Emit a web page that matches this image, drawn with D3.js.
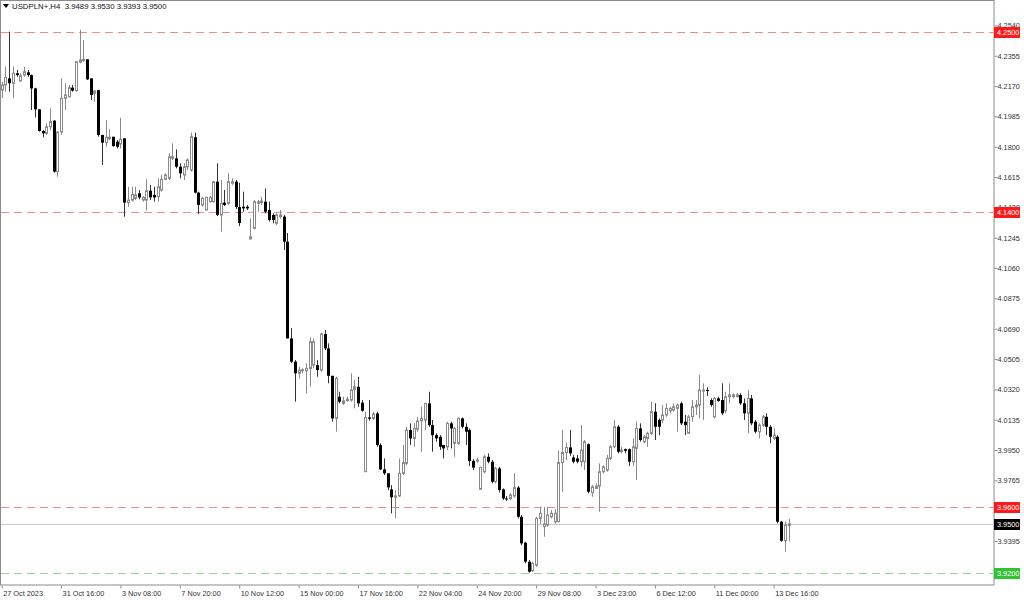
<!DOCTYPE html>
<html><head><meta charset="utf-8">
<script src="https://cdn.jsdelivr.net/npm/d3@7"></script>
<style>
html,body{margin:0;padding:0;background:#fff;}
svg{display:block;}
text{font-family:"Liberation Sans",Arial,sans-serif;}
</style></head>
<body>
<svg id="c" width="1024" height="600"></svg>
<script>
const title = "USDPLN+,H4  3.9489 3.9530 3.9393 3.9500";
const openV = [4.2146,4.2177,4.2217,4.2187,4.2248,4.2201,4.2237,4.2254,4.2237,4.2156,4.2028,4.1896,4.1882,4.1922,4.1959,4.1648,4.1890,4.2095,4.2105,4.2160,4.2142,4.2315,4.2325,4.2333,4.2217,4.2126,4.2146,4.1872,4.1825,4.1849,4.1861,4.1831,4.1817,4.1851,4.1459,4.1475,4.1485,4.1516,4.1475,4.1475,4.1532,4.1506,4.1495,4.1536,4.1601,4.1607,4.1729,4.1729,4.1678,4.1628,4.1678,4.1658,4.1858,4.1520,4.1445,4.1414,4.1465,4.1465,4.1587,4.1384,4.1459,4.1455,4.1577,4.1587,4.1432,4.1434,4.1434,4.1237,4.1302,4.1455,4.1459,4.1465,4.1414,4.1384,4.1333,4.1374,4.1374,4.1221,4.0631,4.0489,4.0418,4.0438,4.0434,4.0448,4.0468,4.0468,4.0438,4.0658,4.0570,4.0403,4.0143,4.0275,4.0234,4.0251,4.0255,4.0320,4.0336,4.0239,3.9818,4.0149,4.0143,4.0174,3.9981,3.9832,3.9808,3.9710,3.9662,3.9670,3.9808,3.9869,4.0072,4.0021,4.0077,4.0128,4.0133,4.0235,4.0102,4.0041,4.0031,3.9981,3.9970,4.0113,3.9991,3.9991,4.0143,4.0092,4.0072,3.9884,3.9884,3.9711,3.9818,3.9909,3.9879,3.9757,3.9838,3.9710,3.9655,3.9655,3.9670,3.9721,3.9543,3.9385,3.9269,3.9214,3.9248,3.9533,3.9483,3.9493,3.9543,3.9513,3.9513,3.9874,3.9935,3.9966,3.9905,3.9899,3.9879,3.9879,3.9986,3.9690,3.9716,3.9731,3.9818,3.9828,3.9899,3.9970,4.0092,3.9940,3.9955,3.9955,3.9879,3.9960,4.0082,4.0001,4.0021,4.0052,4.0184,4.0133,4.0133,4.0164,4.0190,4.0194,4.0204,4.0235,4.0123,4.0052,4.0153,4.0214,4.0224,4.0310,4.0316,4.0255,4.0153,4.0265,4.0255,4.0190,4.0275,4.0276,4.0276,4.0286,4.0235,4.0174,4.0265,4.0123,4.0062,4.0102,4.0153,4.0092,4.0021,4.0031,3.9513,3.9397,3.9489];
const highV = [4.2195,4.2288,4.2502,4.2288,4.2268,4.2248,4.2288,4.2268,4.2240,4.2160,4.2030,4.1902,4.1943,4.2034,4.1963,4.1892,4.2217,4.2187,4.2177,4.2177,4.2319,4.2512,4.2451,4.2333,4.2217,4.2146,4.2146,4.1872,4.1963,4.1906,4.1861,4.1841,4.1977,4.1851,4.1556,4.1556,4.1556,4.1536,4.1499,4.1601,4.1567,4.1556,4.1607,4.1628,4.1638,4.1760,4.1821,4.1784,4.1699,4.1699,4.1729,4.1886,4.1886,4.1526,4.1495,4.1495,4.1499,4.1587,4.1699,4.1597,4.1536,4.1638,4.1607,4.1597,4.1580,4.1526,4.1445,4.1363,4.1475,4.1475,4.1495,4.1546,4.1465,4.1394,4.1394,4.1414,4.1384,4.1274,4.0694,4.0499,4.0458,4.0448,4.0479,4.0638,4.0630,4.0499,4.0666,4.0682,4.0601,4.0403,4.0397,4.0306,4.0275,4.0275,4.0418,4.0377,4.0397,4.0255,4.0184,4.0255,4.0184,4.0184,3.9991,3.9899,3.9808,3.9736,3.9706,3.9899,3.9981,4.0093,4.0113,4.0113,4.0153,4.0214,4.0235,4.0306,4.0133,4.0052,4.0041,3.9981,4.0123,4.0123,4.0092,4.0149,4.0149,4.0113,4.0082,3.9894,3.9904,3.9848,3.9920,3.9930,3.9889,3.9848,3.9848,3.9716,3.9670,3.9686,3.9808,3.9731,3.9554,3.9391,3.9279,3.9269,3.9543,3.9604,3.9604,3.9604,3.9584,3.9590,3.9945,4.0072,3.9996,4.0072,3.9920,3.9920,4.0102,4.0011,3.9991,3.9736,3.9747,3.9869,3.9857,3.9920,3.9981,4.0133,4.0102,3.9970,3.9960,3.9960,4.0021,4.0123,4.0113,4.0041,4.0062,4.0245,4.0235,4.0143,4.0224,4.0235,4.0214,4.0235,4.0235,4.0245,4.0164,4.0164,4.0255,4.0255,4.0408,4.0357,4.0332,4.0265,4.0275,4.0275,4.0357,4.0306,4.0357,4.0296,4.0296,4.0296,4.0265,4.0316,4.0286,4.0133,4.0113,4.0164,4.0174,4.0102,4.0082,4.0041,3.9518,3.9513,3.9530];
const lowV = [4.2097,4.2136,4.2136,4.2095,4.2227,4.2197,4.2227,4.2227,4.2024,4.1979,4.1892,4.1858,4.1872,4.1902,4.1642,4.1617,4.1872,4.2024,4.2101,4.2136,4.2136,4.2309,4.2319,4.2207,4.2085,4.2075,4.1861,4.1689,4.1800,4.1841,4.1800,4.1790,4.1790,4.1373,4.1434,4.1465,4.1475,4.1479,4.1465,4.1410,4.1475,4.1465,4.1465,4.1526,4.1597,4.1597,4.1719,4.1668,4.1607,4.1597,4.1658,4.1648,4.1516,4.1390,4.1434,4.1414,4.1459,4.1459,4.1378,4.1282,4.1438,4.1445,4.1567,4.1420,4.1316,4.1404,4.1414,4.1237,4.1296,4.1404,4.1445,4.1394,4.1343,4.1333,4.1323,4.1363,4.1170,4.0631,4.0481,4.0245,4.0388,4.0418,4.0296,4.0336,4.0448,4.0397,4.0428,4.0560,4.0357,4.0123,4.0062,4.0235,4.0225,4.0245,4.0245,4.0204,4.0214,4.0184,3.9818,4.0129,4.0133,3.9970,3.9828,3.9798,3.9706,3.9564,3.9533,3.9665,3.9798,3.9858,3.9981,3.9970,4.0062,3.9940,4.0072,4.0092,3.9940,4.0001,3.9950,3.9899,3.9950,3.9960,3.9909,3.9981,4.0082,3.9981,3.9853,3.9828,3.9872,3.9708,3.9808,3.9869,3.9747,3.9747,3.9691,3.9645,3.9640,3.9645,3.9660,3.9533,3.9370,3.9259,3.9202,3.9208,3.9238,3.9500,3.9421,3.9482,3.9533,3.9500,3.9513,3.9696,3.9889,3.9915,3.9869,3.9869,3.9848,3.9828,3.9686,3.9665,3.9716,3.9574,3.9808,3.9818,3.9889,3.9960,3.9930,3.9930,3.9930,3.9853,3.9853,3.9767,4.0001,3.9990,3.9970,4.0041,4.0011,4.0041,4.0113,4.0153,4.0174,4.0184,4.0062,4.0102,4.0041,4.0052,4.0123,4.0164,4.0143,4.0133,4.0280,4.0214,4.0143,4.0245,4.0164,4.0174,4.0235,4.0265,4.0270,4.0225,4.0133,4.0052,4.0102,4.0052,4.0021,4.0092,4.0041,3.9991,4.0011,3.9503,3.9391,3.9330,3.9393];
const closeV = [4.2177,4.2223,4.2187,4.2248,4.2237,4.2233,4.2258,4.2237,4.2156,4.2028,4.1896,4.1882,4.1922,4.1953,4.1648,4.1890,4.2095,4.2116,4.2160,4.2142,4.2319,4.2329,4.2333,4.2211,4.2116,4.2140,4.1872,4.1825,4.1858,4.1858,4.1804,4.1800,4.1845,4.1459,4.1475,4.1510,4.1506,4.1491,4.1491,4.1532,4.1491,4.1491,4.1556,4.1601,4.1628,4.1739,4.1739,4.1678,4.1638,4.1678,4.1719,4.1861,4.1520,4.1445,4.1485,4.1491,4.1491,4.1587,4.1384,4.1455,4.1445,4.1587,4.1587,4.1432,4.1335,4.1424,4.1424,4.1251,4.1465,4.1465,4.1469,4.1404,4.1353,4.1353,4.1384,4.1384,4.1221,4.0631,4.0489,4.0418,4.0438,4.0440,4.0448,4.0611,4.0611,4.0438,4.0658,4.0570,4.0403,4.0143,4.0387,4.0245,4.0250,4.0260,4.0316,4.0336,4.0235,4.0190,4.0149,4.0141,4.0170,3.9981,3.9832,3.9808,3.9722,3.9662,3.9670,3.9808,3.9873,4.0072,4.0021,4.0082,4.0128,4.0143,4.0235,4.0102,4.0041,4.0021,3.9970,3.9960,4.0113,4.0082,4.0082,4.0143,4.0092,4.0062,3.9884,3.9843,3.9889,3.9844,3.9909,3.9879,3.9757,3.9838,3.9706,3.9655,3.9650,3.9676,3.9721,3.9543,3.9381,3.9269,3.9208,3.9259,3.9533,3.9564,3.9499,3.9554,3.9564,3.9564,3.9874,3.9935,3.9966,3.9930,3.9879,3.9879,3.9950,4.0001,3.9696,3.9726,3.9731,3.9818,3.9848,3.9899,3.9970,4.0092,3.9940,3.9950,3.9945,3.9879,3.9970,4.0082,4.0011,4.0031,4.0052,4.0184,4.0092,4.0092,4.0164,4.0204,4.0204,4.0214,4.0224,4.0113,4.0102,4.0153,4.0214,4.0224,4.0316,4.0316,4.0312,4.0225,4.0265,4.0250,4.0174,4.0275,4.0286,4.0286,4.0286,4.0235,4.0174,4.0265,4.0113,4.0062,4.0102,4.0153,4.0092,4.0031,4.0041,3.9513,3.9397,3.9494,3.9500];
const xTickIndex = [0,16,32,48,64,80,96,112,128,144,160,176,192,208];
const xTickLabels = ["27 Oct 2023","31 Oct 16:00","3 Nov 08:00","7 Nov 20:00","10 Nov 12:00","15 Nov 00:00","17 Nov 16:00","22 Nov 04:00","24 Nov 20:00","29 Nov 08:00","3 Dec 23:00","6 Dec 12:00","11 Dec 00:00","13 Dec 16:00"];
const yTickValues = [4.2540,4.2355,4.2170,4.1985,4.1800,4.1615,4.1430,4.1245,4.1060,4.0875,4.0690,4.0505,4.0320,4.0135,3.9950,3.9765,3.9395,3.9210];
const redLevels = [4.2500,4.1400,3.9600];
const greenLevels = [3.9200];
const lastPrice = 3.9500;

const data = openV.map((o,i)=>({i, o, h:highV[i], l:lowV[i], c:closeV[i]}));

const W=1024, H=600, plotR=994, plotB=585;
const svg = d3.select("#c");
const x = d3.scaleLinear().domain([0,212]).range([1.7,788.5]);
const y = d3.scaleLinear().domain([3.9127,4.2695]).range([plotB,0]);

// frame
svg.append("rect").attr("x",0.5).attr("y",0.5).attr("width",plotR-0.5).attr("height",plotB-0.5)
  .attr("fill","#fff").attr("stroke","#8c8c8c");

// level lines
const lv = svg.append("g");
lv.selectAll("line.red").data(redLevels).join("line").attr("class","red")
  .attr("x1",1).attr("x2",plotR).attr("y1",d=>Math.round(y(d))+0.5).attr("y2",d=>Math.round(y(d))+0.5)
  .attr("stroke","#ec8c8c").attr("stroke-dasharray","8,5");
lv.selectAll("line.green").data(greenLevels).join("line").attr("class","green")
  .attr("x1",1).attr("x2",plotR).attr("y1",d=>Math.round(y(d))+0.5).attr("y2",d=>Math.round(y(d))+0.5)
  .attr("stroke","#8fd88f").attr("stroke-dasharray","8,5");
lv.append("line").attr("x1",1).attr("x2",plotR).attr("y1",Math.round(y(lastPrice))+0.5).attr("y2",Math.round(y(lastPrice))+0.5)
  .attr("stroke","#c8c8c8");

// candles
const cg = svg.append("g");
const cx = d=>Math.round(x(d.i));
cg.selectAll("line.w").data(data).join("line").attr("class","w")
  .attr("x1",d=>cx(d)+0.5).attr("x2",d=>cx(d)+0.5)
  .attr("y1",d=>y(d.h)).attr("y2",d=>y(d.l))
  .attr("stroke",d=>d.c>=d.o?"#8a8a8a":"#333");
cg.selectAll("rect.b").data(data).join("rect").attr("class","b")
  .attr("x",d=>d.c>=d.o?cx(d)-0.5:cx(d)-1)
  .attr("width",d=>d.c>=d.o?2:3)
  .attr("y",d=>y(Math.max(d.o,d.c)))
  .attr("height",d=>Math.max(1,Math.abs(y(d.o)-y(d.c))))
  .attr("fill",d=>d.c>=d.o?"#fff":"#000")
  .attr("stroke",d=>d.c>=d.o?"#8a8a8a":"none");

// right axis
const ya = svg.append("g").attr("transform",`translate(${plotR+0.5},0)`)
  .call(d3.axisRight(y).tickValues(yTickValues).tickSize(3).tickFormat(d3.format(".4f")));
ya.select(".domain").remove();
ya.selectAll("line").attr("stroke","#8c8c8c");
ya.selectAll("text").attr("x",3).attr("fill","#333").style("font-size","7.3px").style("font-family","'Liberation Sans',Arial,sans-serif");

// bottom axis
const xa = svg.append("g").attr("transform",`translate(0,${plotB+0.5})`)
  .call(d3.axisBottom(x).tickValues(xTickIndex).tickSize(3).tickFormat((d,k)=>xTickLabels[k]));
xa.select(".domain").remove();
xa.selectAll(".tick line").attr("stroke","#8c8c8c");
xa.selectAll("text").attr("text-anchor","start").attr("x",1).attr("y",5).attr("fill","#333")
  .style("font-size","7.3px").style("font-family","'Liberation Sans',Arial,sans-serif");

// price labels
function tag(v, bg){
  const yy = Math.round(y(v));
  svg.append("rect").attr("x",plotR).attr("y",yy-5).attr("width",26).attr("height",11).attr("fill",bg);
  svg.append("text").attr("x",plotR+3).attr("y",yy+3).attr("fill","#fff")
    .style("font-size","7.3px").text(d3.format(".4f")(v));
}
redLevels.forEach(v=>tag(v,"#ff1a1a"));
greenLevels.forEach(v=>tag(v,"#33c233"));
tag(lastPrice,"#000");

// header
svg.append("path").attr("d","M3,4 L9,4 L6,8 Z").attr("fill","#000");
svg.append("text").attr("x",12).attr("y",9).attr("fill","#111").style("font-size","7.8px")
  .attr("xml:space","preserve").style("white-space","pre").text(title);
</script>
</body></html>
